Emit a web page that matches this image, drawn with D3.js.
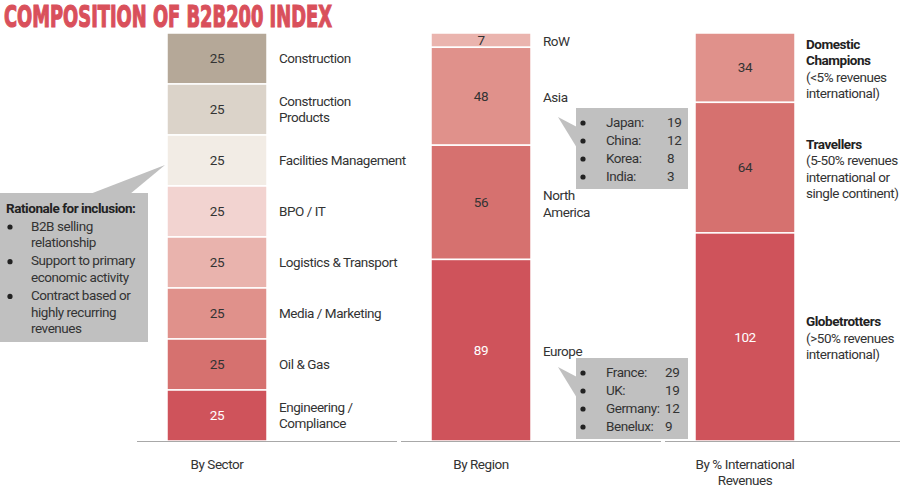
<!DOCTYPE html>
<html>
<head>
<meta charset="utf-8">
<script src="https://cdn.jsdelivr.net/npm/d3@7"></script>
<style>
  body { margin: 0; background: #fff; }
  svg text { font-family: Roboto, "Noto Sans", sans-serif; fill: #333; font-size: 13.5px; letter-spacing: -0.45px; }
</style>
</head>
<body>
<svg id="chart" width="900" height="489"></svg>
<script>
const width = 900;
const height = 489;

// Data, listed top to bottom within each bar
const groups = ["By Sector", "By Region", "By % International\nRevenues"];

const sectorNames = [
  "Construction", "Construction\nProducts", "Facilities Management", "BPO / IT",
  "Logistics & Transport", "Media / Marketing", "Oil & Gas", "Engineering /\nCompliance"
];
const sectorValues = [25, 25, 25, 25, 25, 25, 25, 25];

const regionNames = ["RoW", "Asia", "North\nAmerica", "Europe"];
const regionValues = [7, 48, 56, 89];

const intlTitles = ["Domestic\nChampions", "Travellers", "Globetrotters"];
const intlNotes = ["(<5% revenues\ninternational)", "(5-50% revenues\ninternational or\nsingle continent)", "(>50% revenues\ninternational)"];
const intlValues = [34, 64, 102];

const asiaBreakdown = ["Japan:", "China:", "Korea:", "India:"];
const asiaValues = [19, 12, 8, 3];
const europeBreakdown = ["France:", "UK:", "Germany:", "Benelux:"];
const europeValues = [29, 19, 12, 9];

const rationale = ["B2B selling\nrelationship", "Support to primary\neconomic activity", "Contract based or\nhighly recurring\nrevenues"];

// Colours
const sectorColors = ["#b5a898", "#dbd3c9", "#f2ece5", "#f2d3d0", "#e9b3ad", "#e0918b", "#d6716f", "#cf535b"];
const regionColors = ["#eab4ae", "#e0918b", "#d6716f", "#cf535b"];
const intlColors = ["#e0918b", "#d6716f", "#cf535b"];

const svg = d3.select("#chart");

// Scales
const x = d3.scaleBand().domain(groups).range([167, 795]).paddingInner(0.6212).paddingOuter(0);
const y = d3.scaleLinear().domain([0, 200]).range([33, 441]);
const lineH = 16.5;

// Title
svg.append("text")
  .attr("x", 4)
  .attr("y", 27)
  .attr("textLength", 328)
  .attr("lengthAdjust", "spacingAndGlyphs")
  .style("font-family", '"DejaVu Sans Condensed", sans-serif')
  .style("font-weight", "bold")
  .style("font-size", "30px")
  .style("letter-spacing", "0")
  .style("fill", "#d9505b")
  .style("stroke", "#d9505b")
  .style("stroke-width", 1.2)
  .text("COMPOSITION OF B2B200 INDEX");

function multiline(sel, str, x0, yc, anchor) {
  const lines = str.split("\n");
  const t = sel.append("text").attr("text-anchor", anchor || "start");
  lines.forEach((l, i) => {
    t.append("tspan")
      .attr("x", x0)
      .attr("y", yc + (i - (lines.length - 1) / 2) * lineH)
      .attr("dy", "0.35em")
      .text(l);
  });
  return t;
}

function drawBar(group, values, colors, whiteLast) {
  const ends = d3.cumsum(values);
  const segs = values.map((v, i) => ({ v, i, y0: ends[i] - v, y1: ends[i] }));
  const bx = x(group);
  const g = svg.append("g");
  g.selectAll("rect")
    .data(segs)
    .enter()
    .append("rect")
    .attr("x", bx)
    .attr("y", (d) => y(d.y0))
    .attr("width", x.bandwidth())
    .attr("height", (d) => y(d.y1) - y(d.y0))
    .attr("fill", (d) => colors[d.i])
    .attr("stroke", "#fff")
    .attr("stroke-width", 1.5);
  g.selectAll("text")
    .data(segs)
    .enter()
    .append("text")
    .attr("x", bx + x.bandwidth() / 2)
    .attr("y", (d) => (y(d.y0) + y(d.y1)) / 2)
    .attr("dy", "0.35em")
    .attr("text-anchor", "middle")
    .style("fill", (d) => (whiteLast && d.i === values.length - 1 ? "#fff" : "#333"))
    .text((d) => d.v);
  // baseline
  svg.append("line")
    .attr("x1", bx - 30)
    .attr("x2", bx + x.bandwidth() + 130)
    .attr("y1", y(200) + 0.5)
    .attr("y2", y(200) + 0.5)
    .attr("stroke", "#a8a8a8")
    .attr("stroke-width", 1.2);
  // group label
  const gl = multiline(svg, group, bx + x.bandwidth() / 2, 0, "middle");
  gl.selectAll("tspan").attr("y", (d, i) => 464 + i * lineH);
  return segs;
}

const sectorSegs = drawBar(groups[0], sectorValues, sectorColors, true);
const regionSegs = drawBar(groups[1], regionValues, regionColors, true);
const intlSegs = drawBar(groups[2], intlValues, intlColors, true);

// Segment labels
sectorSegs.forEach((d, i) => {
  multiline(svg, sectorNames[i], x(groups[0]) + x.bandwidth() + 12, (y(d.y0) + y(d.y1)) / 2);
});
regionSegs.forEach((d, i) => {
  multiline(svg, regionNames[i], x(groups[1]) + x.bandwidth() + 12, (y(d.y0) + y(d.y1)) / 2 + 1.5);
});
intlSegs.forEach((d, i) => {
  const title = intlTitles[i].split("\n");
  const all = intlTitles[i] + "\n" + intlNotes[i];
  const t = multiline(svg, all, x(groups[2]) + x.bandwidth() + 11, (y(d.y0) + y(d.y1)) / 2 + 1);
  t.selectAll("tspan")
    .style("font-weight", (dd, j) => (j < title.length ? "bold" : "normal"))
    .style("fill", (dd, j) => (j < title.length ? "#222" : "#333"));
});

// Callout boxes
const boxFill = "#c0c0c0";

// Rationale box (pointing at the sector bar)
svg.append("path")
  .attr("d", "M90,194 L165,165 L130,194 Z")
  .attr("fill", boxFill);
svg.append("rect")
  .attr("x", 0).attr("y", 193).attr("width", 148).attr("height", 149)
  .attr("fill", boxFill);
svg.append("text")
  .attr("x", 6).attr("y", 208).attr("dy", "0.35em")
  .style("font-weight", "bold").style("fill", "#222")
  .text("Rationale for inclusion:");
let ry = 226;
rationale.forEach((item) => {
  const lines = item.split("\n");
  svg.append("circle").attr("cx", 10).attr("cy", ry + 1).attr("r", 2.6).attr("fill", "#222");
  lines.forEach((l) => {
    svg.append("text")
      .attr("x", 31).attr("y", ry).attr("dy", "0.35em")
      .text(l);
    ry += 16.6;
  });
  ry += 1.5;
});

function breakdownBox(names, values, top, tipY, valX) {
  const bx = x(groups[1]) + x.bandwidth() + 45;
  svg.append("path")
    .attr("d", `M${bx + 1},${top + 19} L${bx - 18},${tipY} L${bx + 1},${top + 40} Z`)
    .attr("fill", boxFill);
  svg.append("rect")
    .attr("x", bx).attr("y", top).attr("width", 112).attr("height", 81)
    .attr("fill", boxFill);
  names.forEach((n, i) => {
    const ty = top + 14 + i * 18;
    svg.append("circle").attr("cx", bx + 7).attr("cy", ty + 1).attr("r", 2.6).attr("fill", "#222");
    svg.append("text").attr("x", bx + 30).attr("y", ty).attr("dy", "0.35em").text(n);
    svg.append("text").attr("x", valX).attr("y", ty).attr("dy", "0.35em").text(values[i]);
  });
}
breakdownBox(asiaBreakdown, asiaValues, 108, 117, 667);
breakdownBox(europeBreakdown, europeValues, 358, 367, 665);
</script>
</body>
</html>
